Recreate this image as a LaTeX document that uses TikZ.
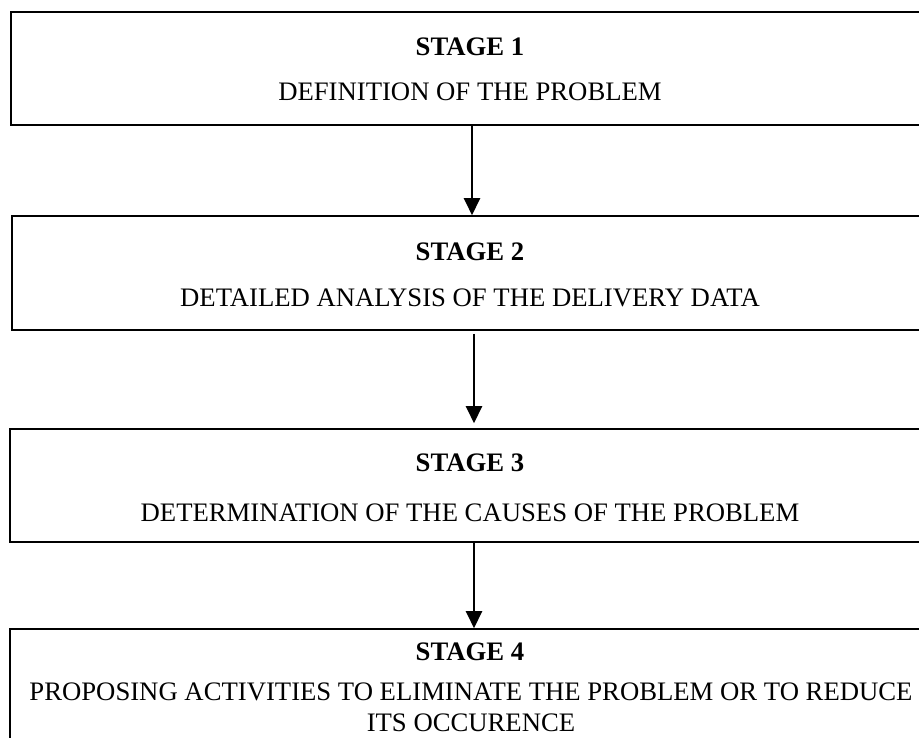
\documentclass[tikz,border=0pt]{standalone}
\usepackage{fontspec}
\setmainfont{Liberation Serif}
\usetikzlibrary{arrows.meta}
\begin{document}
\begin{tikzpicture}[x=1pt,y=1pt,
  stagebox/.style={draw=black,line width=1.6pt,minimum width=919pt,inner sep=0pt},
  title/.style={anchor=base,inner sep=0pt,font=\fontsize{26.7}{30}\selectfont\bfseries},
  body/.style={anchor=base,inner sep=0pt,font=\fontsize{26.7}{30}\selectfont},
  flow/.style={line width=2.6pt,-{Triangle[length=17pt,width=16pt]}}]
\useasboundingbox (0,0) rectangle (919,738);
% boxes
\node[stagebox,minimum height=113pt] (b1) at (470.5,669.5) {};
\node[stagebox,minimum height=114pt,minimum width=918pt] (b2) at (471,465) {};
\node[stagebox,minimum height=113pt,minimum width=920pt] (b3) at (470,252.5) {};
\node[stagebox,minimum height=116pt,minimum width=920pt] (b4) at (470,51) {};
% texts
\node[title] (s1) at (470,682) {STAGE 1};
\node[body] (t1) at (470,637) {DEFINITION OF THE PROBLEM};
\node[title] (s2) at (470,477) {STAGE 2};
\node[body] (t2) at (470,431) {DETAILED ANALYSIS OF THE DELIVERY DATA};
\node[title] (s3) at (470,266) {STAGE 3};
\node[body] (t3) at (470,216) {DETERMINATION OF THE CAUSES OF THE PROBLEM};
\node[title] (s4) at (470,77) {STAGE 4};
\node[body] (t4) at (471,37) {PROPOSING ACTIVITIES TO ELIMINATE THE PROBLEM OR TO REDUCE};
\node[body] (t5) at (471,6) {ITS OCCURENCE};
% arrows
\draw[flow] (b1.south -| 472,0) -- (b2.north -| 472,0);
\draw[flow] ([yshift=-3pt]b2.south -| 474,0) -- ([yshift=5pt]b3.north -| 474,0);
\draw[flow] (b3.south -| 474,0) -- (b4.north -| 474,0);
\end{tikzpicture}
\end{document}
